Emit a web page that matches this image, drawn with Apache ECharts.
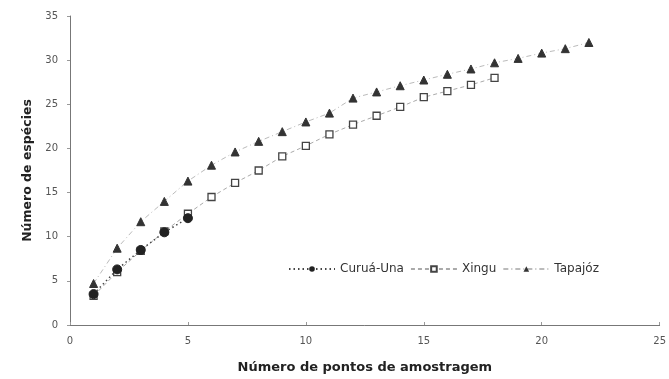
<!DOCTYPE html>
<html><head><meta charset="utf-8">
<script src="https://cdn.jsdelivr.net/npm/echarts@6/dist/echarts.min.js"></script>
<style>html,body{margin:0;padding:0;background:#fff}#c{width:669px;height:379px}</style>
</head><body><div id="c"></div>
<script>
const curuaX = [1,2,3,4,5];
const curuaY = [3.5,6.3,8.5,10.5,12.1];
const xinguX = [1,2,3,4,5,6,7,8,9,10,11,12,13,14,15,16,17,18];
const xinguY = [3.3,6.0,8.4,10.6,12.6,14.5,16.1,17.5,19.1,20.3,21.6,22.7,23.7,24.7,25.8,26.5,27.2,28.0];
const tapajozX = [1,2,3,4,5,6,7,8,9,10,11,12,13,14,15,16,17,18,19,20,21,22];
const tapajozY = [4.7,8.7,11.7,14.0,16.3,18.1,19.6,20.8,21.9,23.0,24.0,25.7,26.4,27.1,27.75,28.4,29.0,29.7,30.2,30.8,31.3,32.0];
const xTicks = [0,5,10,15,20,25];
const yTicks = [0,5,10,15,20,25,30,35];

const pair = (xs, ys) => xs.map((x, i) => [x, ys[i]]);
const font = 'DejaVu Sans, Arial, sans-serif';
const chart = echarts.init(document.getElementById('c'));
chart.setOption({
  animation: false,
  backgroundColor: '#fff',
  grid: {left: 70, right: 9, top: 16, bottom: 52},
  xAxis: {
    type: 'value', min: xTicks[0], max: xTicks[xTicks.length-1], interval: 5,
    name: 'Número de pontos de amostragem', nameLocation: 'middle', nameGap: 36,
    nameTextStyle: {fontFamily: font, fontSize: 13, fontWeight: 'bold', color: '#222'},
    axisLine: {lineStyle: {color: '#777', width: 1}},
    axisTick: {show: true, length: 3, inside: true, lineStyle: {color: '#999'}},
    axisLabel: {fontFamily: font, fontSize: 10, color: '#555', margin: 11},
    splitLine: {show: false}
  },
  yAxis: {
    type: 'value', min: yTicks[0], max: yTicks[yTicks.length-1], interval: 5,
    name: 'Número de espécies', nameLocation: 'middle', nameGap: 32, nameRotate: 90,
    nameTextStyle: {fontFamily: font, fontSize: 12.5, fontWeight: 'bold', color: '#222'},
    axisLine: {show: true, lineStyle: {color: '#777', width: 1}},
    axisTick: {show: true, length: 3, lineStyle: {color: '#999'}},
    axisLabel: {fontFamily: font, fontSize: 10, color: '#555', margin: 12},
    splitLine: {show: false}
  },
  legend: {
    left: 283, top: 258, itemWidth: 46, itemHeight: 7, itemGap: 6,
    textStyle: {fontFamily: font, fontSize: 12, color: '#333'},
    data: ['Curuá-Una', 'Xingu', 'Tapajóz']
  },
  series: [
    {name: 'Tapajóz', type: 'line', data: pair(tapajozX, tapajozY),
     symbol: 'triangle', symbolSize: 8,
     itemStyle: {color: '#333', borderColor: '#333'},
     lineStyle: {color: '#bbb', width: 1, type: [5, 3, 1, 3]}, z: 2},
    {name: 'Xingu', type: 'line', data: pair(xinguX, xinguY),
     symbol: 'rect', symbolSize: 7,
     itemStyle: {color: '#fff', borderColor: '#444', borderWidth: 1.3},
     lineStyle: {color: '#aaa', width: 1, type: [4, 3]}, z: 3},
    {name: 'Curuá-Una', type: 'line', data: pair(curuaX, curuaY),
     symbol: 'circle', symbolSize: 9,
     itemStyle: {color: '#222', borderColor: '#222'},
     lineStyle: {color: '#444', width: 1.5, type: [1.5, 3]}, z: 4}
  ]
});
</script></body></html>
